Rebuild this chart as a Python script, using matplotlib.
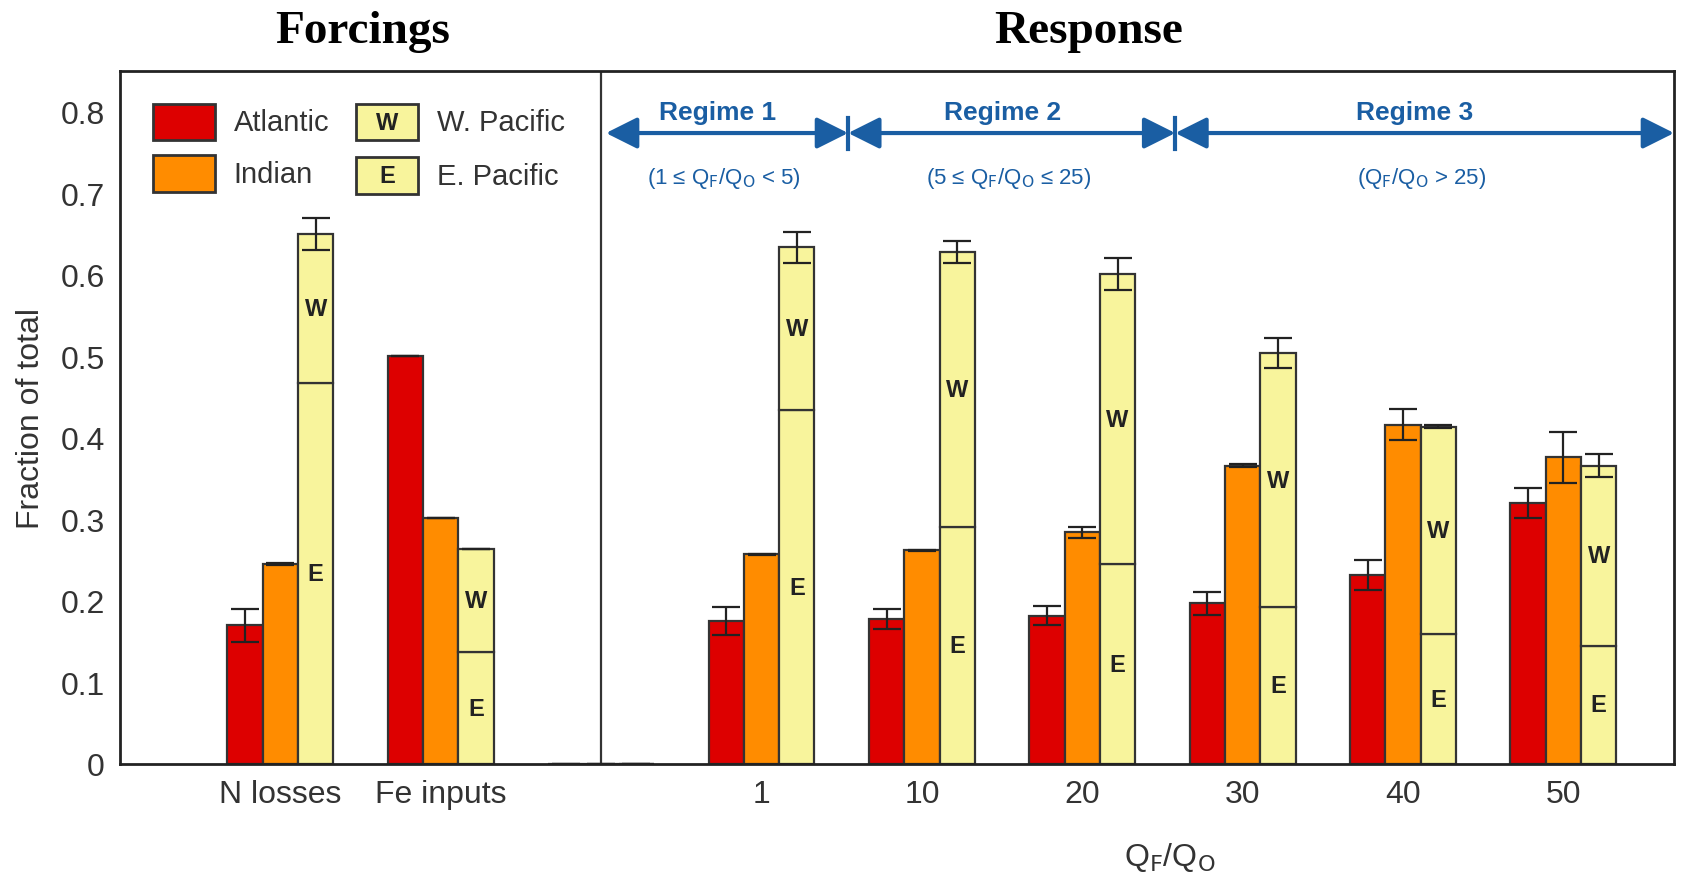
import numpy as np
import matplotlib.pyplot as plt
from matplotlib.patches import Rectangle

# group labels along the x axis (slot 2 is an empty spacer at the divider)
groups = ['N losses', 'Fe inputs', '', '1', '10', '20', '30', '40', '50']

atlantic     = [0.170, 0.500, 0.0, 0.175, 0.178, 0.182, 0.197, 0.232, 0.320]
atlantic_err = [0.020, 0.000, 0.0, 0.017, 0.012, 0.012, 0.014, 0.018, 0.018]
indian       = [0.245, 0.302, 0.0, 0.257, 0.262, 0.284, 0.366, 0.416, 0.376]
indian_err   = [0.001, 0.000, 0.0, 0.001, 0.001, 0.007, 0.002, 0.019, 0.031]
e_pacific    = [0.467, 0.137, 0.0, 0.434, 0.291, 0.245, 0.192, 0.159, 0.145]
w_pacific    = [0.183, 0.127, 0.0, 0.200, 0.337, 0.356, 0.312, 0.255, 0.221]
pacific_err  = [0.020, 0.000, 0.0, 0.019, 0.013, 0.020, 0.018, 0.002, 0.014]

regimes = ['Regime 1', 'Regime 2', 'Regime 3']
regime_ranges = [r'(1 ≤ Q$_\mathrm{F}$/Q$_\mathrm{O}$ < 5)',
                 r'(5 ≤ Q$_\mathrm{F}$/Q$_\mathrm{O}$ ≤ 25)',
                 r'(Q$_\mathrm{F}$/Q$_\mathrm{O}$ > 25)']
regime_edges = [2.03, 3.54, 5.58, 8.69]

RED = '#dd0000'
ORANGE = '#ff8c00'
YELLOW = '#f8f49c'
EDGE = '#333333'
BLUE = '#1a5ea3'

plt.rcParams['font.family'] = 'Liberation Sans'

fig = plt.figure(figsize=(16.83, 8.79), dpi=100)
ax = fig.add_axes([0.0713, 0.1297, 0.9234, 0.7883])

x = np.arange(len(groups))
w = 0.22
tot = np.array(e_pacific) + np.array(w_pacific)

bar_kw = dict(width=w, edgecolor=EDGE, linewidth=1.6, zorder=2)
err_kw = dict(fmt='none', ecolor='#222222', elinewidth=1.6, capsize=10, capthick=1.6, zorder=3)

ax.bar(x - w, atlantic, color=RED, **bar_kw)
ax.bar(x, indian, color=ORANGE, **bar_kw)
ax.bar(x + w, e_pacific, color=YELLOW, **bar_kw)
ax.bar(x + w, w_pacific, bottom=e_pacific, color=YELLOW, **bar_kw)

ax.errorbar(x - w, atlantic, yerr=atlantic_err, **err_kw)
ax.errorbar(x, indian, yerr=indian_err, **err_kw)
ax.errorbar(x + w, tot, yerr=pacific_err, **err_kw)

for i in range(len(groups)):
    if tot[i] == 0:
        continue
    ax.text(x[i] + w, e_pacific[i] / 2, 'E', ha='center', va='center',
            fontsize=17, fontweight='bold', color='#222222', zorder=4)
    ax.text(x[i] + w, e_pacific[i] + w_pacific[i] / 2, 'W', ha='center', va='center',
            fontsize=17, fontweight='bold', color='#222222', zorder=4)

# divider between forcings and response
ax.axvline(2, color=EDGE, linewidth=1.6, zorder=1)

# regime arrows
ya = 0.774
for k in range(3):
    x0, x1 = regime_edges[k], regime_edges[k + 1]
    ax.annotate('', xy=(x1, ya), xytext=(x0, ya),
                arrowprops=dict(arrowstyle='<|-|>', color=BLUE, lw=3,
                                mutation_scale=48, shrinkA=0, shrinkB=0))
    xm = (x0 + x1) / 2
    ax.text(xm - 0.06, 0.8, regimes[k], ha='center', va='center', color=BLUE,
            fontsize=19, fontweight='bold')
    ax.text(xm - 0.02, 0.72, regime_ranges[k], ha='center', va='center', color=BLUE,
            fontsize=16)
for xe in regime_edges[1:3]:
    ax.plot([xe, xe], [0.755, 0.793], color=BLUE, lw=3)

# legend drawn as boxes in axes coordinates
leg = [(0.021, 0.900, RED, '', 'Atlantic'),
       (0.021, 0.826, ORANGE, '', 'Indian'),
       (0.152, 0.900, YELLOW, 'W', 'W. Pacific'),
       (0.152, 0.823, YELLOW, 'E', 'E. Pacific')]
for lx, ly, c, mark, lab in leg:
    ax.add_patch(Rectangle((lx, ly), 0.04, 0.053, transform=ax.transAxes,
                           facecolor=c, edgecolor=EDGE, linewidth=2, zorder=5))
    if mark:
        ax.text(lx + 0.02, ly + 0.026, mark, transform=ax.transAxes, ha='center',
                va='center', fontsize=17, fontweight='bold', color='#222222', zorder=6)
    ax.text(lx + 0.052, ly + 0.026, lab, transform=ax.transAxes, ha='left',
            va='center', fontsize=21, color='#333333', zorder=6)

ax.set_xlim(-1.0, 8.69)
ax.set_ylim(0, 0.85)
ax.set_xticks(x)
ax.set_xticklabels(groups, fontsize=23, color='#333333')
ax.set_yticks(np.arange(0, 0.81, 0.1))
ax.set_yticklabels(['0'] + ['%.1f' % v for v in np.arange(0.1, 0.81, 0.1)],
                   fontsize=23, color='#333333')
ax.tick_params(length=0, pad=11)
for s in ax.spines.values():
    s.set_linewidth(2)
    s.set_color('#222222')

ax.set_ylabel('Fraction of total', fontsize=23, color='#333333', labelpad=10)
fig.text(0.695, 0.024, r'Q$_\mathrm{F}$/Q$_\mathrm{O}$', ha='center', va='center',
         fontsize=23, color='#333333')

fig.text(0.2155, 0.964, 'Forcings', ha='center', va='center', fontsize=34,
         fontweight='bold', family='Liberation Serif')
fig.text(0.647, 0.964, 'Response', ha='center', va='center', fontsize=34,
         fontweight='bold', family='Liberation Serif')

fig.savefig('out.png', dpi=100)
